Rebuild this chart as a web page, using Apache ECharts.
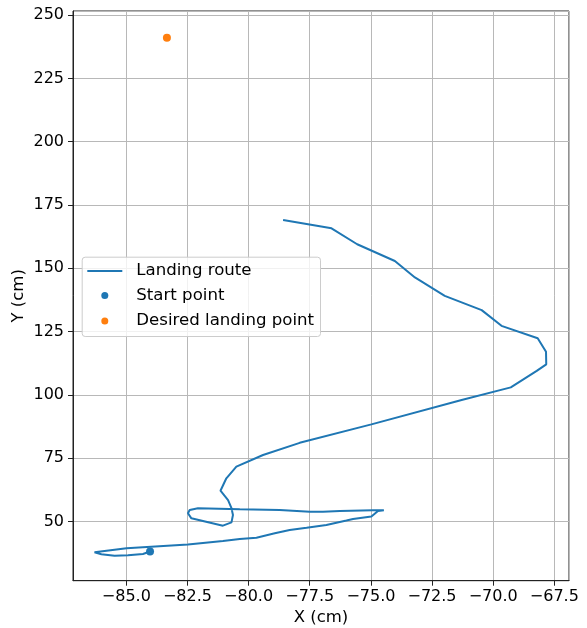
<!DOCTYPE html>
<html>
<head>
<meta charset="utf-8">
<script src="https://cdn.jsdelivr.net/npm/echarts@6/dist/echarts.min.js"></script>
<style>html,body{margin:0;padding:0;background:#fff}#c{width:587px;height:628px}</style>
</head>
<body>
<div id="c"></div>
<script>
var routeX = [-84.03,-84.32,-84.93,-85.48,-86.02,-86.30,-84.99,-82.48,-81.05,-80.36,-79.68,-78.93,-78.32,-77.63,-76.82,-76.00,-75.73,-74.98,-74.71,-74.47,-74.91,-76.27,-76.96,-77.50,-78.73,-80.36,-82.07,-82.41,-82.48,-82.34,-81.05,-80.70,-80.64,-80.70,-80.84,-81.15,-80.91,-80.50,-79.41,-77.91,-74.98,-71.29,-69.28,-68.22,-67.83,-67.84,-68.18,-69.66,-70.47,-71.98,-73.20,-74.02,-75.56,-76.61,-78.59];
var routeY = [38.2,37.2,36.7,36.5,37.1,37.9,39.5,41.0,42.3,43.1,43.6,45.4,46.7,47.6,48.7,50.4,51.0,52.0,54.2,54.5,54.5,54.2,53.9,53.9,54.6,54.9,55.3,54.6,53.3,51.3,48.4,49.7,52.6,55.3,58.5,62.2,67.1,71.7,76.3,81.1,88.4,98.0,103.0,109.5,112.1,117.1,122.4,127.3,133.5,139.1,146.4,152.9,159.5,165.8,169.1];
var startPoint = [-84.03, 38.2];
var desiredPoint = [-83.34, 241.0];
var seriesNames = ['Landing route', 'Start point', 'Desired landing point'];

var route = routeX.map(function (x, i) { return [x, routeY[i]]; });
var font = 'DejaVu Sans';
function fmtX(v) { return v.toFixed(1).replace('-', '\u2212'); }
function fmtY(v) { return String(Math.round(v)).replace('-', '\u2212'); }
var circleIcon = 'path://M0,3.5A3.5,3.5,0,1,1,7,3.5A3.5,3.5,0,1,1,0,3.5Z';

var chart = echarts.init(document.getElementById('c'), null, {renderer: 'canvas'});
chart.setOption({
  animation: false,
  backgroundColor: '#fff',
  grid: {left: 73, right: 18, top: 11, bottom: 47.3, containLabel: false, outerBoundsMode: 'none', show: true, borderColor: '#222', borderWidth: 1, backgroundColor: 'transparent'},
  xAxis: {
    type: 'value', min: -87.18, max: -66.9, minInterval: 2.5, maxInterval: 2.5,
    name: 'X (cm)', nameLocation: 'middle', nameGap: 28,
    nameTextStyle: {fontFamily: font, fontSize: 16.5, color: '#000'},
    axisLine: {show: true, lineStyle: {color: '#222', width: 1}},
    axisTick: {show: true, length: 5, lineStyle: {color: '#222', width: 1}},
    axisLabel: {fontFamily: font, fontSize: 16, color: '#000', margin: 8, showMinLabel: false, showMaxLabel: false, formatter: fmtX},
    splitLine: {show: true, lineStyle: {color: '#b8b8b8', width: 1}}
  },
  yAxis: {
    type: 'value', min: 26.67, max: 251.6, minInterval: 25, maxInterval: 25,
    name: 'Y (cm)', nameLocation: 'middle', nameGap: 46, nameMoveOverlap: false,
    nameTextStyle: {fontFamily: font, fontSize: 16.5, color: '#000'},
    axisLine: {show: true, lineStyle: {color: '#222', width: 1}},
    axisTick: {show: true, length: 5, lineStyle: {color: '#222', width: 1}},
    axisLabel: {fontFamily: font, fontSize: 16, color: '#000', margin: 9, showMinLabel: false, showMaxLabel: false, formatter: fmtY},
    splitLine: {show: true, lineStyle: {color: '#b8b8b8', width: 1}}
  },
  graphic: [{
    type: 'rect', z: 3, left: 81.7, top: 256.7,
    shape: {width: 238.3, height: 79.3, r: 3},
    style: {fill: 'rgba(255,255,255,0.8)', stroke: '#cccccc', lineWidth: 1}
  }],
  legend: [{
    z: 5, orient: 'vertical', left: 87.3, top: 262.4, padding: 0,
    itemWidth: 35, itemHeight: 2, itemGap: 9,
    data: [{name: seriesNames[0], icon: 'rect'}],
    textStyle: {fontFamily: font, fontSize: 16.6, color: '#000', padding: [0, 0, 0, 9]}
  }, {
    z: 5, orient: 'vertical', left: 101.3, top: 287, padding: 0,
    itemWidth: 35, itemHeight: 7, itemGap: 8.4, symbolKeepAspect: true,
    data: [{name: seriesNames[1], icon: circleIcon}, {name: seriesNames[2], icon: circleIcon}],
    textStyle: {fontFamily: font, fontSize: 16.6, color: '#000', padding: [0, 0, 0, 9]}
  }],
  series: [{
    name: seriesNames[0], type: 'line', data: route, symbol: 'none', z: 2,
    lineStyle: {color: '#1f77b4', width: 2}, itemStyle: {color: '#1f77b4'}
  }, {
    name: seriesNames[1], type: 'scatter', data: [startPoint], symbolSize: 8, z: 3,
    itemStyle: {color: '#1f77b4', opacity: 1}
  }, {
    name: seriesNames[2], type: 'scatter', data: [desiredPoint], symbolSize: 8, z: 3,
    itemStyle: {color: '#ff7f0e', opacity: 1}
  }]
});
</script>
</body>
</html>
